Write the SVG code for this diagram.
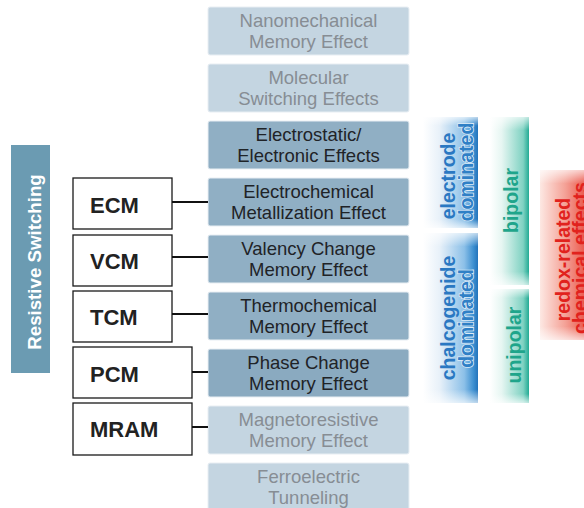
<svg xmlns="http://www.w3.org/2000/svg" width="584" height="508" viewBox="0 0 584 508">
<defs>
<linearGradient id="gBlue" x1="0" y1="0" x2="1" y2="0">
<stop offset="0" stop-color="#ffffff"/>
<stop offset="0.3" stop-color="#e8f1f9"/>
<stop offset="0.75" stop-color="#8cc0e8"/>
<stop offset="0.92" stop-color="#3c8fd0"/>
<stop offset="1" stop-color="#2373bb"/>
</linearGradient>
<linearGradient id="gTeal" x1="0" y1="0" x2="1" y2="0">
<stop offset="0" stop-color="#ffffff"/>
<stop offset="0.3" stop-color="#e6f6f2"/>
<stop offset="0.85" stop-color="#7fd2c2"/>
<stop offset="1" stop-color="#22ab94"/>
</linearGradient>
<linearGradient id="gRed" x1="0" y1="0" x2="1" y2="0">
<stop offset="0" stop-color="#fde8e3"/>
<stop offset="0.5" stop-color="#f4a297"/>
<stop offset="1" stop-color="#e8463a"/>
</linearGradient>
<linearGradient id="gFade" x1="0" y1="0" x2="0" y2="1">
<stop offset="0" stop-color="#ffffff" stop-opacity="0.7"/>
<stop offset="0.08" stop-color="#ffffff" stop-opacity="0"/>
<stop offset="0.92" stop-color="#ffffff" stop-opacity="0"/>
<stop offset="1" stop-color="#ffffff" stop-opacity="0.7"/>
</linearGradient>
<style>
.eff{stroke:#e8eef3;stroke-width:1}
.light{fill:#c4d5e1}
.dark{fill:#90afc4}
.t{font-family:"Liberation Sans",Arial,sans-serif;font-size:18.5px;text-anchor:middle}
.tl{fill:#878d94}
.td{fill:#1f2327}
.lab{fill:#ffffff;stroke:#1a1a1a;stroke-width:1.3}
.lt{font-family:"Liberation Sans",Arial,sans-serif;font-size:22px;font-weight:bold;fill:#222222}
.rt{font-family:"Liberation Sans",Arial,sans-serif;font-size:19.5px;font-weight:bold;text-anchor:middle}
.blue{fill:#2a78c2}
.blue2{fill:#2f80c6;stroke:#dcebf7;stroke-width:1.6;paint-order:stroke}
.teal{fill:#1fa58b}
.red{fill:#e1221d}
.conn{stroke:#111111;stroke-width:2;fill:none}
</style>
</defs>

<g id="resistive-switching">
<rect x="11" y="145" width="39" height="228" fill="#6b9bb2"/>
<text class="rt" transform="translate(41,262) rotate(-90)" style="fill:#ffffff;font-size:18.7px">Resistive Switching</text>
</g>

<g id="nanomechanical">
<rect class="eff light" x="208" y="7" width="201" height="48" rx="2"/>
<text class="t tl" x="308.5" y="26.5">Nanomechanical</text>
<text class="t tl" x="308.5" y="48">Memory Effect</text>
</g>
<g id="molecular">
<rect class="eff light" x="208" y="64" width="201" height="48" rx="2"/>
<text class="t tl" x="308.5" y="83.5">Molecular</text>
<text class="t tl" x="308.5" y="105">Switching Effects</text>
</g>
<g id="electrostatic">
<rect class="eff dark" x="208" y="121" width="201" height="48" rx="2"/>
<text class="t td" x="308.5" y="140.5">Electrostatic/</text>
<text class="t td" x="308.5" y="162">Electronic Effects</text>
</g>
<g id="electrochemical">
<rect class="eff dark" x="208" y="178" width="201" height="48" rx="2"/>
<text class="t td" x="308.5" y="197.5">Electrochemical</text>
<text class="t td" x="308.5" y="219">Metallization Effect</text>
</g>
<g id="valency">
<rect class="eff dark" x="208" y="235" width="201" height="48" rx="2"/>
<text class="t td" x="308.5" y="254.5">Valency Change</text>
<text class="t td" x="308.5" y="276">Memory Effect</text>
</g>
<g id="thermochemical">
<rect class="eff dark" x="208" y="292" width="201" height="48" rx="2"/>
<text class="t td" x="308.5" y="311.5">Thermochemical</text>
<text class="t td" x="308.5" y="333">Memory Effect</text>
</g>
<g id="phase-change">
<rect class="eff dark" x="208" y="349" width="201" height="48" rx="2" style="fill:#8aaac0"/>
<text class="t td" x="308.5" y="368.5">Phase Change</text>
<text class="t td" x="308.5" y="390">Memory Effect</text>
</g>
<g id="magnetoresistive">
<rect class="eff light" x="208" y="406" width="201" height="48" rx="2"/>
<text class="t tl" x="308.5" y="425.5">Magnetoresistive</text>
<text class="t tl" x="308.5" y="447">Memory Effect</text>
</g>
<g id="ferroelectric">
<rect class="eff light" x="208" y="463" width="201" height="48" rx="2"/>
<text class="t tl" x="308.5" y="482.5">Ferroelectric</text>
<text class="t tl" x="308.5" y="504">Tunneling</text>
</g>

<g id="ecm">
<rect class="lab" x="73" y="178" width="99" height="51"/>
<text class="lt" x="90" y="213">ECM</text>
</g>
<g id="vcm">
<rect class="lab" x="73" y="235" width="99" height="51"/>
<text class="lt" x="90" y="269">VCM</text>
</g>
<g id="tcm">
<rect class="lab" x="73" y="291" width="99" height="51"/>
<text class="lt" x="90" y="325">TCM</text>
</g>
<g id="pcm">
<rect class="lab" x="73" y="347" width="119" height="51"/>
<text class="lt" x="90" y="382">PCM</text>
</g>
<g id="mram">
<rect class="lab" x="73" y="403" width="119" height="52"/>
<text class="lt" x="90" y="437">MRAM</text>
</g>

<g id="connectors">
<line class="conn" x1="172" y1="202" x2="208" y2="202"/>
<line class="conn" x1="172" y1="257" x2="208" y2="257"/>
<line class="conn" x1="172" y1="314" x2="208" y2="314"/>
<line class="conn" x1="192" y1="372" x2="208" y2="372"/>
<line class="conn" x1="192" y1="427" x2="208" y2="427"/>
</g>

<g id="electrode-dominated">
<rect x="423" y="117" width="55" height="111" fill="url(#gBlue)"/>
<rect x="423" y="117" width="55" height="111" fill="url(#gFade)"/>
<text class="rt blue" transform="translate(455,176) rotate(-90)">electrode</text>
<text class="rt blue2" transform="translate(473,172) rotate(-90)">dominated</text>
</g>
<g id="chalcogenide-dominated">
<rect x="423" y="233" width="55" height="170" fill="url(#gBlue)"/>
<rect x="423" y="233" width="55" height="170" fill="url(#gFade)"/>
<text class="rt blue" transform="translate(455,318) rotate(-90)">chalcogenide</text>
<text class="rt blue2" transform="translate(473,318.5) rotate(-90)">dominated</text>
</g>
<g id="bipolar">
<rect x="490" y="117" width="39" height="168" fill="url(#gTeal)"/>
<rect x="490" y="117" width="39" height="168" fill="url(#gFade)"/>
<text class="rt teal" transform="translate(518,200.5) rotate(-90)">bipolar</text>
</g>
<g id="unipolar">
<rect x="490" y="289" width="39" height="114" fill="url(#gTeal)"/>
<rect x="490" y="289" width="39" height="114" fill="url(#gFade)"/>
<text class="rt teal" transform="translate(521,345) rotate(-90)">unipolar</text>
</g>
<g id="redox-related">
<rect x="540" y="170" width="50" height="170" fill="url(#gRed)"/>
<rect x="540" y="170" width="50" height="170" fill="url(#gFade)"/>
<text class="rt red" transform="translate(570,259.5) rotate(-90)">redox-related</text>
<text class="rt red" transform="translate(587,258) rotate(-90)">chemical effects</text>
</g>
</svg>
